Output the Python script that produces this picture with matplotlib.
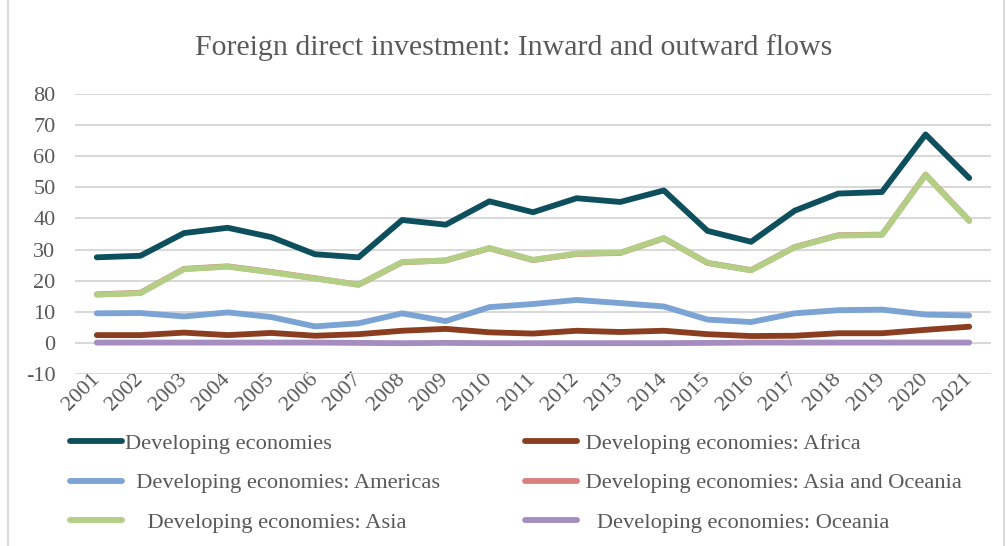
import matplotlib.pyplot as plt
from matplotlib.patches import Rectangle

# data (approx)
years = [str(y) for y in range(2001, 2022)]
developing = [27.5, 28.0, 35.3, 37.0, 34.0, 28.5, 27.5, 39.5, 38.0, 45.5, 42.0,
              46.5, 45.3, 49.0, 36.0, 32.5, 42.5, 48.0, 48.5, 67.0, 53.0]
africa = [2.5, 2.5, 3.3, 2.5, 3.2, 2.3, 2.8, 3.9, 4.5, 3.4, 3.0,
          3.9, 3.5, 3.9, 2.8, 2.2, 2.3, 3.1, 3.1, 4.2, 5.2]
americas = [9.5, 9.6, 8.5, 9.8, 8.3, 5.3, 6.3, 9.5, 7.0, 11.5, 12.5,
            13.8, 12.8, 11.7, 7.5, 6.7, 9.5, 10.5, 10.7, 9.1, 8.8]
asia = [15.5, 16.0, 23.7, 24.5, 22.7, 20.7, 18.7, 26.0, 26.5, 30.5, 26.7,
        28.7, 29.0, 33.7, 25.7, 23.3, 30.7, 34.5, 34.7, 54.0, 39.2]
oceania = [0.1, 0.1, 0.1, 0.1, 0.1, 0.1, 0.0, -0.1, 0.0, -0.1, -0.1,
           -0.1, -0.1, -0.1, 0.0, 0.1, 0.1, 0.1, 0.1, 0.1, 0.1]
asia_oceania = [a + o for a, o in zip(asia, oceania)]

grey = '#595959'
plt.rcParams['font.family'] = ['Liberation Serif', 'DejaVu Serif']
plt.rcParams['axes.unicode_minus'] = False

fig = plt.figure(figsize=(10.06, 5.46), dpi=100)
ax = fig.add_axes([75 / 1006, 1 - 374 / 546, 916 / 1006, 280 / 546])

x = range(len(years))
lw = 4.2
l_dev, = ax.plot(x, developing, color='#0D4F5C', lw=lw, solid_capstyle='round', label='Developing economies')
l_afr, = ax.plot(x, africa, color='#8B3E1F', lw=lw, solid_capstyle='round', label=' Developing economies: Africa')
l_ame, = ax.plot(x, americas, color='#7BA3D3', lw=lw, solid_capstyle='round', label='  Developing economies: Americas')
l_aso, = ax.plot(x, asia_oceania, color='#D98080', lw=lw, solid_capstyle='round', label=' Developing economies: Asia and Oceania')
l_asi, = ax.plot(x, asia, color='#B3CF85', lw=lw, solid_capstyle='round', label='    Developing economies: Asia')
l_oce, = ax.plot(x, oceania, color='#A58DC0', lw=lw, solid_capstyle='round', label='   Developing economies: Oceania')

ax.set_xlim(-0.5, len(years) - 0.5)
ax.set_ylim(-10, 80)
ax.set_yticks(range(-10, 81, 10))
ax.set_xticks(list(x))
ax.set_xticklabels(years, rotation=45, ha='right', rotation_mode='anchor', va='center')
ax.grid(axis='y', color='#D9D9D9', lw=1.5)
ax.set_axisbelow(True)
for s in ax.spines.values():
    s.set_visible(False)
ax.tick_params(axis='y', length=0, pad=14, labelsize=16, labelcolor=grey)
ax.tick_params(axis='x', length=0, pad=2, labelsize=16, labelcolor=grey)

fig.suptitle('Foreign direct investment: Inward and outward flows', x=0.511, y=1 - 48 / 546,
             va='center', fontsize=21.5, color=grey)

handles = [l_dev, l_ame, l_asi, l_afr, l_aso, l_oce]
leg = fig.legend(handles, [h.get_label() for h in handles], ncol=2, loc='upper left',
                 bbox_to_anchor=(70 / 1006, 1 - 433 / 546), frameon=False, fontsize=16.2,
                 borderpad=0, borderaxespad=0,
                 handlelength=2.3, handletextpad=0.13, columnspacing=3.8, labelspacing=0.84)
for t in leg.get_texts():
    t.set_color(grey)

# outer chart border
fig.patches.append(Rectangle((8 / 1006, -0.01), 0.99, 1.02, transform=fig.transFigure,
                             fill=False, edgecolor='#D9D9D9', lw=1.5))

fig.savefig('out.png', dpi=100)
